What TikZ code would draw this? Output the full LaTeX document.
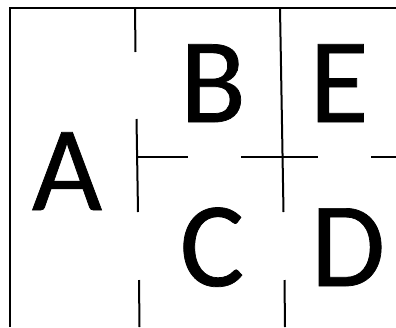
\documentclass[tikz,border=0pt]{standalone}
\usepackage{fontspec}
\setmainfont{Carlito}
\newfontfamily\heavyfont[FakeBold=0.6]{Carlito}
\begin{document}
\begin{tikzpicture}[x=1pt,y=-1pt,
  rule/.style={line width=2pt,black},
  letter/.style={inner sep=0pt,anchor=base,font=\heavyfont\fontsize{121}{121}\selectfont}]
\useasboundingbox (0,0) rectangle (396,327);
% outer frame
\draw[rule] (10,327) -- (10,8) -- (396,8);
% first vertical (gapped)
\draw[rule] (135,8) -- (135.5,52);
\draw[rule] (136.5,119) -- (138,212);
\draw[rule] (139,280) -- (139.5,327);
% second vertical
\draw[rule] (280,8) -- (283.5,212);
\draw[rule] (284.5,280) -- (285,327);
% horizontal (gapped)
\draw[rule] (137,157) -- (188,157);
\draw[rule] (241,157) -- (318,157);
\draw[rule] (371,157) -- (396,157);
% letters
\node[letter] (A) at (67,210) {A};
\node[letter] (B) at (213,122) {B};
\node[letter] (E) at (339,122) {E};
\node[letter] (C) at (212,286) {C};
\node[letter] (D) at (348,286) {D};
\end{tikzpicture}
\end{document}
